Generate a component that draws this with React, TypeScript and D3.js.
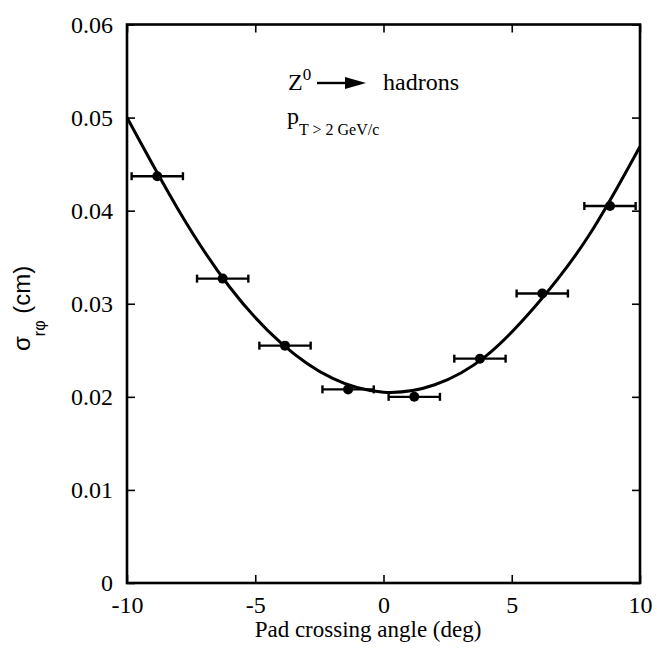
import React, { useEffect, useRef } from "react";
import * as d3 from "d3";

// measured points
const angles = [-8.82, -6.27, -3.84, -1.38, 1.2, 3.76, 6.19, 8.83];
const sigma = [0.0437, 0.0327, 0.0255, 0.0208, 0.02, 0.0241, 0.0311, 0.0405];
const angleErr = [1, 1, 1, 1, 1, 1, 1, 1];

// fitted curve
const fitAngles = [-10, -8, -6, -4, -2, 0, 2, 4, 6, 8, 10];
const fitSigma = [0.05, 0.0401, 0.0318, 0.0258, 0.022, 0.0205, 0.0213, 0.0244, 0.03, 0.0373, 0.0469];

const xTicks = [-10, -5, 0, 5, 10];
const yTicks = [0, 0.01, 0.02, 0.03, 0.04, 0.05, 0.06];

const W = 657;
const H = 651;
const m = { left: 127, right: 17, top: 24.5, bottom: 68 };
const serif = "'Liberation Serif', 'Times New Roman', serif";
const sans = "'Liberation Sans', Arial, sans-serif";

const App = () => {
  const ref = useRef<SVGSVGElement>(null);

  useEffect(() => {
    const svg = d3.select(ref.current);
    svg.selectAll("*").remove();

    const x = d3.scaleLinear().domain([-10, 10]).range([m.left, W - m.right]);
    const y = d3.scaleLinear().domain([0, 0.06]).range([H - m.bottom, m.top]);

    const styleAxis = (g) => {
      g.attr("font-family", null).attr("font-size", null);
      g.selectAll(".domain").remove();
      g.selectAll(".tick line").attr("stroke", "#000").attr("stroke-width", 1.6);
      g.selectAll("text")
        .style("font-family", serif)
        .style("font-size", "24px")
        .attr("fill", "#000");
    };

    const fmt = (d) => (d === 0 ? "0" : d3.format(".2f")(d));

    svg.append("g")
      .attr("transform", `translate(${m.left},0)`)
      .call(d3.axisLeft(y).tickValues(yTicks).tickFormat(fmt).tickSizeInner(-8).tickSizeOuter(0).tickPadding(14))
      .call(styleAxis);

    svg.append("g")
      .attr("transform", `translate(${W - m.right},0)`)
      .call(d3.axisRight(y).tickValues(yTicks).tickFormat(() => "").tickSizeInner(-8).tickSizeOuter(0))
      .call(styleAxis);

    svg.append("g")
      .attr("transform", `translate(0,${H - m.bottom})`)
      .call(d3.axisBottom(x).tickValues(xTicks).tickFormat((d) => String(d)).tickSizeInner(-8).tickSizeOuter(0).tickPadding(13))
      .call(styleAxis);

    svg.append("g")
      .attr("transform", `translate(0,${m.top})`)
      .call(d3.axisTop(x).tickValues(xTicks).tickFormat(() => "").tickSizeInner(-8).tickSizeOuter(0))
      .call(styleAxis);

    // frame
    svg.append("rect")
      .attr("x", m.left)
      .attr("y", m.top)
      .attr("width", W - m.left - m.right)
      .attr("height", H - m.top - m.bottom)
      .attr("fill", "none")
      .attr("stroke", "#000")
      .attr("stroke-width", 2.6);

    // fit curve
    const line = d3.line<number>()
      .x((d, i) => x(fitAngles[i]))
      .y((d) => y(d))
      .curve(d3.curveNatural);

    svg.append("path")
      .attr("d", line(fitSigma))
      .attr("fill", "none")
      .attr("stroke", "#000")
      .attr("stroke-width", 3);

    // error bars
    const pts = angles.map((a, i) => ({ a, s: sigma[i], e: angleErr[i] }));
    const eb = svg.append("g").attr("stroke", "#000").attr("stroke-width", 2.4);
    pts.forEach((p) => {
      eb.append("line").attr("x1", x(p.a - p.e)).attr("x2", x(p.a + p.e)).attr("y1", y(p.s)).attr("y2", y(p.s));
      [p.a - p.e, p.a + p.e].forEach((v) => {
        eb.append("line").attr("x1", x(v)).attr("x2", x(v)).attr("y1", y(p.s) - 4).attr("y2", y(p.s) + 4);
      });
    });

    svg.append("g")
      .selectAll("circle")
      .data(pts)
      .enter()
      .append("circle")
      .attr("cx", (d) => x(d.a))
      .attr("cy", (d) => y(d.s))
      .attr("r", 5)
      .attr("fill", "#000");

    // annotation
    const note = svg.append("g").style("font-family", serif).attr("fill", "#000");
    const z = note.append("text").attr("x", 288).attr("y", 90).style("font-size", "24px");
    z.append("tspan").text("Z");
    z.append("tspan").style("font-size", "17px").attr("dy", -10).text("0");
    note.append("line")
      .attr("x1", 317).attr("x2", 348).attr("y1", 83).attr("y2", 83)
      .attr("stroke", "#000").attr("stroke-width", 2.4);
    note.append("path").attr("d", "M345,77 L366,83 L345,89 Z").attr("fill", "#000");
    note.append("text").attr("x", 383).attr("y", 90).style("font-size", "24px").text("hadrons");
    const pt = note.append("text").attr("x", 287).attr("y", 124).style("font-size", "24px");
    pt.append("tspan").text("p");
    pt.append("tspan").style("font-size", "16px").attr("dy", 11).text("T > 2 GeV/c");

    // axis titles
    svg.append("text")
      .attr("x", 368)
      .attr("y", 637)
      .attr("text-anchor", "middle")
      .style("font-family", serif)
      .style("font-size", "23px")
      .text("Pad crossing angle (deg)");

    const yt = svg.append("text")
      .attr("transform", "translate(30,351) rotate(-90)")
      .style("font-family", sans)
      .style("font-size", "24px");
    yt.append("tspan").text("σ");
    yt.append("tspan").style("font-size", "16px").attr("dy", 15).text("rφ");
    yt.append("tspan").attr("dy", -15).text(" (cm)");
  }, []);

  return (
    <svg
      ref={ref}
      width={W}
      height={H}
      style={{ position: "absolute", left: 0, top: 0, background: "#fff" }}
    ></svg>
  );
};

export default App;
